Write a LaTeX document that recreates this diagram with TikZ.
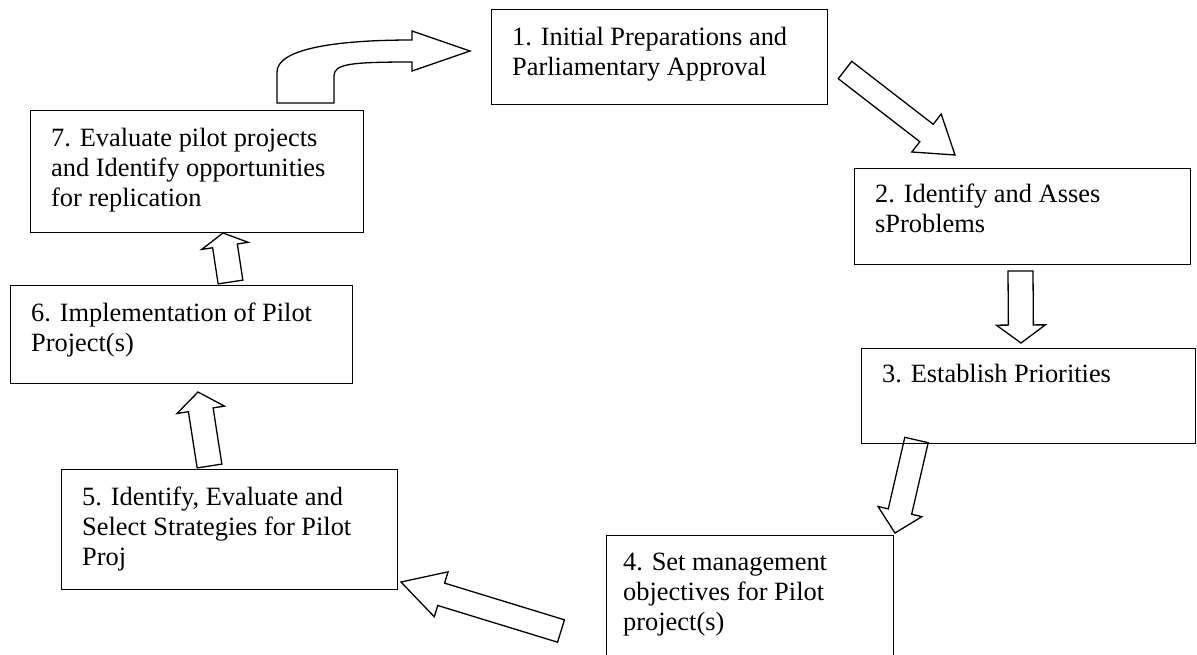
\documentclass[tikz,border=0pt]{standalone}
\usepackage{fontspec}
\setmainfont{Liberation Serif}
\usetikzlibrary{calc}
\tikzset{
  box/.style={draw, line width=1.3pt, rectangle, inner sep=0pt, anchor=north west},
  txt/.style={anchor=north west, inner sep=0pt, align=left, font=\fontsize{26.4}{30}\selectfont},
  barr/.style={draw, fill=white, line width=1.3pt, line join=miter},
}
\newcommand\blockarrow[5]{% tail, tip, half shaft, half head, head length
  \path ($(#2)!#5!(#1)$) coordinate (hb);
  \draw[barr] ($(#1)!#3!90:(#2)$) -- ($(hb)!#3!90:(#2)$) -- ($(hb)!#4!90:(#2)$) -- (#2)
    -- ($(hb)!#4!-90:(#2)$) -- ($(hb)!#3!-90:(#2)$) -- ($(#1)!#3!-90:(#2)$) -- cycle;
}
\begin{document}
\begin{tikzpicture}[x=1pt, y=-1pt]
\useasboundingbox (0,0) rectangle (1197,654);
\clip (0,0) rectangle (1197,654);
\fill[white] (0,0) rectangle (1197,654);

% arrows
\draw[barr] (277,103) -- (277,72) .. controls (277,50) and (330,40) .. (412,40)
  -- (412,31) -- (470,51) -- (412,71) -- (412,62)
  .. controls (350,62) and (334,64) .. (334,76) -- (334,103) -- cycle;

\coordinate (aBt) at (845,70);   \coordinate (aBp) at (955,155);
\coordinate (aCt) at (1020.5,271); \coordinate (aCp) at (1021,343);
\coordinate (aDt) at (916.5,440); \coordinate (aDp) at (895,533);
\coordinate (aEt) at (561,631);  \coordinate (aEp) at (401,582);
\coordinate (aFt) at (209.5,466); \coordinate (aFp) at (198,392);
\coordinate (aGt) at (230.5,282); \coordinate (aGp) at (223,233);

\blockarrow{aBt}{aBp}{11pt}{24pt}{36pt}
\blockarrow{aCt}{aCp}{12.5pt}{24.5pt}{18pt}
\blockarrow{aDt}{aDp}{12pt}{22.5pt}{22pt}
\blockarrow{aEt}{aEp}{11.7pt}{23.5pt}{42pt}
\blockarrow{aFt}{aFp}{12.5pt}{24pt}{18pt}
\blockarrow{aGt}{aGp}{12.5pt}{23.5pt}{13pt}

% boxes
\node[box, minimum width=336pt, minimum height=95pt] (b1) at (491,9) {};
\node[box, minimum width=336pt, minimum height=96pt] (b2) at (854,168) {};
\node[box, minimum width=334pt, minimum height=95pt] (b3) at (861,348) {};
\node[box, minimum width=287pt, minimum height=160pt] (b4) at (606,535) {};
\node[box, minimum width=336pt, minimum height=120pt] (b5) at (61,469) {};
\node[box, minimum width=342pt, minimum height=98pt] (b6) at (10,285) {};
\node[box, minimum width=333pt, minimum height=122pt] (b7) at (30,110) {};

\node[txt] (t1) at ($(b1.north west)+(21,18)$) {1. Initial Preparations and\\Parliamentary Approval};
\node[txt] (t2) at ($(b2.north west)+(21,16)$) {2. Identify and Asses\\sProblems};
\node[txt] (t3) at ($(b3.north west)+(21,16)$) {3. Establish Priorities};
\node[txt] (t4) at ($(b4.north west)+(17,18)$) {4. Set management\\objectives for Pilot\\project(s)};
\node[txt] (t5) at ($(b5.north west)+(21,18)$) {5. Identify, Evaluate and\\Select Strategies for Pilot\\Proj};
\node[txt] (t6) at ($(b6.north west)+(21,18)$) {6. Implementation of Pilot\\Project(s)};
\node[txt] (t7) at ($(b7.north west)+(21,18)$) {7. Evaluate pilot projects\\and Identify opportunities\\for replication};
\end{tikzpicture}
\end{document}
